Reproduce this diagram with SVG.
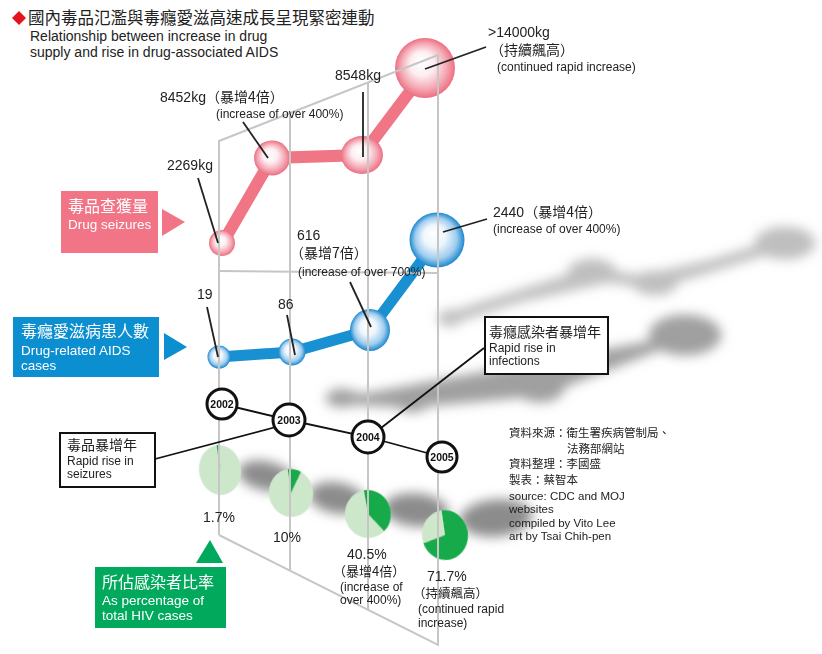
<svg xmlns="http://www.w3.org/2000/svg" width="822" height="654" viewBox="0 0 822 654">
<defs>
<style>
text { font-family: 'Liberation Sans', 'Noto Sans CJK TC', sans-serif; fill: #222; }
.cjk { font-family: 'Noto Sans CJK TC', 'Liberation Sans', sans-serif; }
.num { font-size: 14px; }
.zh { font-size: 14px; }
.en { font-size: 12px; }
.frame { stroke: #c6c6c6; stroke-width: 2; fill: none; }
.lead { stroke: #222; stroke-width: 1.8; fill: none; }
.ylink { stroke: #111; stroke-width: 1.8; fill: none; }
.yr circle { fill: #fff; stroke: #111; stroke-width: 3; }
.yr text { font-size: 10.5px; font-weight: bold; text-anchor: middle; fill: #111; }
.box { fill: #fff; stroke: #111; stroke-width: 2; }
.wt { fill: #fff; }
.redlink { stroke: #f07585; stroke-width: 12; stroke-linecap: round; fill: none; }
.bluelink { stroke: #1890d2; stroke-width: 11; stroke-linecap: round; fill: none; }
.pl { fill: #cde7cb; }
.pd { fill: #16aa4b; }
.shadow { fill: #808080; stroke: #808080; }
</style>
<radialGradient id="gr" cx="0.5" cy="0.5" r="0.5" fx="0.42" fy="0.38">
<stop offset="0" stop-color="#ffffff"/>
<stop offset="0.4" stop-color="#fdeef1"/>
<stop offset="0.75" stop-color="#f5aab6"/>
<stop offset="1" stop-color="#ec6f82"/>
</radialGradient>
<radialGradient id="gb" cx="0.5" cy="0.5" r="0.5" fx="0.42" fy="0.38">
<stop offset="0" stop-color="#ffffff"/>
<stop offset="0.4" stop-color="#eef6fc"/>
<stop offset="0.75" stop-color="#9fcdef"/>
<stop offset="1" stop-color="#1c88cf"/>
</radialGradient>
<filter id="blur" x="-50%" y="-50%" width="200%" height="200%">
<feGaussianBlur stdDeviation="6"/>
</filter>
<filter id="soft" x="-20%" y="-20%" width="140%" height="140%">
<feGaussianBlur stdDeviation="0.5"/>
</filter>
</defs>
<rect width="822" height="654" fill="#fff"/>

<g id="title">
<polygon points="19,11 26,18 19,25 12,18" fill="#e3121d"/>
<text class="cjk" x="28" y="24" font-size="16.5" fill="#111">國內毒品氾濫與毒癮愛滋高速成長呈現緊密連動</text>
<text x="30" y="41" font-size="14" fill="#333">Relationship between increase in drug</text>
<text x="30" y="57" font-size="14" fill="#333">supply and rise in drug-associated AIDS</text>
</g>

<g id="shadows" filter="url(#blur)">
<g opacity="0.5">
<path class="shadow" d="M450,318 L590,274 L655,283 L785,243" stroke-width="12" fill="none"/>
<ellipse class="shadow" cx="450" cy="318" rx="12" ry="8"/>
<ellipse class="shadow" cx="592" cy="272" rx="24" ry="13"/>
<ellipse class="shadow" cx="655" cy="283" rx="22" ry="12"/>
<ellipse class="shadow" cx="785" cy="243" rx="30" ry="16"/>
</g>
<g opacity="0.75">
<path class="shadow" d="M340,398 L410,402 L540,390 L683,335" stroke-width="12" fill="none"/>
<ellipse class="shadow" cx="342" cy="398" rx="16" ry="9"/>
<ellipse class="shadow" cx="412" cy="401" rx="18" ry="11"/>
<ellipse class="shadow" cx="540" cy="388" rx="24" ry="14"/>
<ellipse class="shadow" cx="685" cy="335" rx="36" ry="20"/>
</g>
<g opacity="0.9">
<ellipse class="shadow" cx="266" cy="476" rx="28" ry="14" transform="rotate(12 266 476)"/>
<ellipse class="shadow" cx="337" cy="498" rx="28" ry="15" transform="rotate(10 337 498)"/>
<ellipse class="shadow" cx="416" cy="510" rx="32" ry="16" transform="rotate(5 416 510)"/>
<ellipse class="shadow" cx="496" cy="518" rx="36" ry="18" transform="rotate(-5 496 518)"/>
</g>
</g>

<g id="pie-2002" transform="translate(220 470) rotate(-8)" filter="url(#soft)">
<ellipse class="pl" cx="0" cy="0" rx="21" ry="25"/>
<path class="pd" d="M0,0 L0,-25 A21,25 0 0 1 2.2,-24.9 Z"/>
</g>
<g id="pie-2003" transform="translate(291 493) rotate(-8)" filter="url(#soft)">
<ellipse class="pl" cx="0" cy="0" rx="22" ry="24"/>
<path class="pd" d="M0,0 L0,-24 A22,24 0 0 1 12.9,-19.4 Z"/>
</g>
<g id="pie-2004" transform="translate(368 514) rotate(-10)" filter="url(#soft)">
<ellipse class="pl" cx="0" cy="0" rx="23" ry="24"/>
<path class="pd" d="M0,0 L0,-24 A23,24 0 0 1 12.9,19.8 Z"/>
</g>
<g id="pie-2005" transform="translate(445 535) rotate(-8)" filter="url(#soft)">
<ellipse class="pl" cx="0" cy="0" rx="23" ry="25"/>
<path class="pd" d="M0,0 L0,-25 A23,25 0 1 1 -22.5,5.2 Z"/>
</g>

<g id="connectors">
<path class="redlink" d="M222,244 L272,158 L362,155 L426,70"/>
<path class="bluelink" d="M219,357 L292,352 L370,330 L437,240"/>
</g>

<g id="seizure-2002"><circle cx="222" cy="243" r="13" fill="url(#gr)"/></g>
<g id="seizure-2003"><ellipse cx="272" cy="158" rx="18" ry="17.5" fill="url(#gr)"/></g>
<g id="seizure-2004"><ellipse cx="362" cy="155" rx="21" ry="19" fill="url(#gr)"/></g>
<g id="seizure-2005"><circle cx="425" cy="68" r="30" fill="url(#gr)"/></g>

<g id="aids-2002"><circle cx="219" cy="357" r="11.5" fill="url(#gb)"/></g>
<g id="aids-2003"><circle cx="292" cy="352" r="13.5" fill="url(#gb)"/></g>
<g id="aids-2004"><ellipse cx="370" cy="330" rx="20" ry="21" fill="url(#gb)"/></g>
<g id="aids-2005"><circle cx="437" cy="240" r="27.5" fill="url(#gb)"/></g>

<g id="frame">
<polyline class="frame" points="219,535 219,141 438,55 438,645 219,535"/>
<line class="frame" x1="290" y1="113" x2="290" y2="570"/>
<line class="frame" x1="368" y1="83" x2="368" y2="609"/>
<line class="frame" x1="219" y1="271" x2="438" y2="273"/>
</g>

<g id="year-links">
<polyline class="ylink" points="222,404 289,420 368,437 442,457"/>
<line class="ylink" x1="155" y1="459" x2="276" y2="427"/>
<line class="ylink" x1="484" y1="348" x2="381" y2="428"/>
</g>

<g id="year-2002" class="yr"><circle cx="222" cy="404" r="15"/><text x="222" y="408">2002</text></g>
<g id="year-2003" class="yr"><circle cx="289" cy="420" r="16"/><text x="289" y="424">2003</text></g>
<g id="year-2004" class="yr"><circle cx="368" cy="437" r="16"/><text x="368" y="441">2004</text></g>
<g id="year-2005" class="yr"><circle cx="442" cy="457" r="15"/><text x="442" y="461">2005</text></g>

<g id="leaders">
<line class="lead" x1="425" y1="69" x2="486" y2="47"/>
<line class="lead" x1="363" y1="92" x2="363" y2="157"/>
<line class="lead" x1="243" y1="122" x2="268" y2="158"/>
<line class="lead" x1="198" y1="178" x2="218" y2="243"/>
<line class="lead" x1="350" y1="282" x2="371" y2="327"/>
<line class="lead" x1="443" y1="232" x2="487" y2="219"/>
<line class="lead" x1="207" y1="307" x2="218" y2="357"/>
<line class="lead" x1="287" y1="315" x2="295" y2="355"/>
</g>

<g id="label-14000">
<text class="num" x="488" y="37">&gt;14000kg</text>
<text class="cjk zh" x="490" y="55">（持續飆高）</text>
<text class="en" x="497" y="71">(continued rapid increase)</text>
</g>
<g id="label-8548"><text class="num" x="335" y="80">8548kg</text></g>
<g id="label-8452">
<text class="num" x="160" y="102">8452kg<tspan class="cjk" font-size="14">（暴增4倍）</tspan></text>
<text class="en" x="216" y="118">(increase of over 400%)</text>
</g>
<g id="label-2269"><text class="num" x="167" y="170">2269kg</text></g>
<g id="label-616">
<text class="num" x="297" y="240">616</text>
<text class="cjk zh" x="290" y="258">（暴增7倍）</text>
<text class="en" x="298" y="276">(increase of over 700%)</text>
</g>
<g id="label-2440">
<text class="num" x="493" y="217">2440<tspan class="cjk" font-size="14">（暴增4倍）</tspan></text>
<text class="en" x="493" y="233">(increase of over 400%)</text>
</g>
<g id="label-19"><text class="num" x="197" y="299">19</text></g>
<g id="label-86"><text class="num" x="278" y="309">86</text></g>

<g id="pct-2002"><text class="num" x="203" y="522">1.7%</text></g>
<g id="pct-2003"><text class="num" x="273" y="542">10%</text></g>
<g id="pct-2004">
<text class="num" x="347" y="559">40.5%</text>
<text class="cjk" font-size="13" x="333" y="576">（暴增4倍）</text>
<text class="en" x="340" y="591">(increase of</text>
<text class="en" x="340" y="604">over 400%)</text>
</g>
<g id="pct-2005">
<text class="num" x="427" y="581">71.7%</text>
<text class="cjk" font-size="12.5" x="413" y="598">（持續飆高）</text>
<text class="en" x="418" y="613">(continued rapid</text>
<text class="en" x="418" y="627">increase)</text>
</g>

<g id="key-seizures">
<rect x="61" y="191" width="97" height="62" fill="#f17487"/>
<polygon points="162,209 162,236 185,222" fill="#f17487"/>
<text class="cjk wt" x="68" y="212" font-size="16">毒品查獲量</text>
<text class="wt" x="68" y="229" font-size="13.5">Drug seizures</text>
</g>
<g id="key-aids">
<rect x="13" y="317" width="146" height="60" fill="#0c8fd0"/>
<polygon points="164,333 164,360 187,347" fill="#0c8fd0"/>
<text class="cjk wt" x="21" y="337" font-size="16">毒癮愛滋病患人數</text>
<text class="wt" x="21" y="355" font-size="13.5">Drug-related AIDS</text>
<text class="wt" x="21" y="370" font-size="13.5">cases</text>
</g>
<g id="key-percentage">
<rect x="95" y="567" width="131" height="61" fill="#00a95c"/>
<polygon points="196,563 223,563 210,540" fill="#00a95c"/>
<text class="cjk wt" x="102" y="588" font-size="16">所佔感染者比率</text>
<text class="wt" x="102" y="605" font-size="13.5">As percentage of</text>
<text class="wt" x="102" y="620" font-size="13.5">total HIV cases</text>
</g>

<g id="box-seizure-year">
<rect class="box" x="60" y="433" width="95" height="54"/>
<text class="cjk" x="67" y="450" font-size="14">毒品暴增年</text>
<text x="67" y="465" font-size="12">Rapid rise in</text>
<text x="67" y="478" font-size="12">seizures</text>
</g>
<g id="box-infection-year">
<rect class="box" x="485" y="317" width="123" height="57"/>
<text class="cjk" x="489" y="337" font-size="14">毒癮感染者暴增年</text>
<text x="489" y="352" font-size="12">Rapid rise in</text>
<text x="489" y="365" font-size="12">infections</text>
</g>

<g id="credits">
<text class="cjk" x="509" y="437" font-size="11.5">資料來源：衛生署疾病管制局、</text>
<text class="cjk" x="567" y="453" font-size="11.5">法務部網站</text>
<text class="cjk" x="509" y="468" font-size="11.5">資料整理：李國盛</text>
<text class="cjk" x="509" y="484" font-size="11.5">製表：蔡智本</text>
<text x="509" y="500" font-size="11.5">source: CDC and MOJ</text>
<text x="509" y="513" font-size="11.5">websites</text>
<text x="509" y="527" font-size="11.5">compiled by Vito Lee</text>
<text x="509" y="540" font-size="11.5">art by Tsai Chih-pen</text>
</g>
</svg>
